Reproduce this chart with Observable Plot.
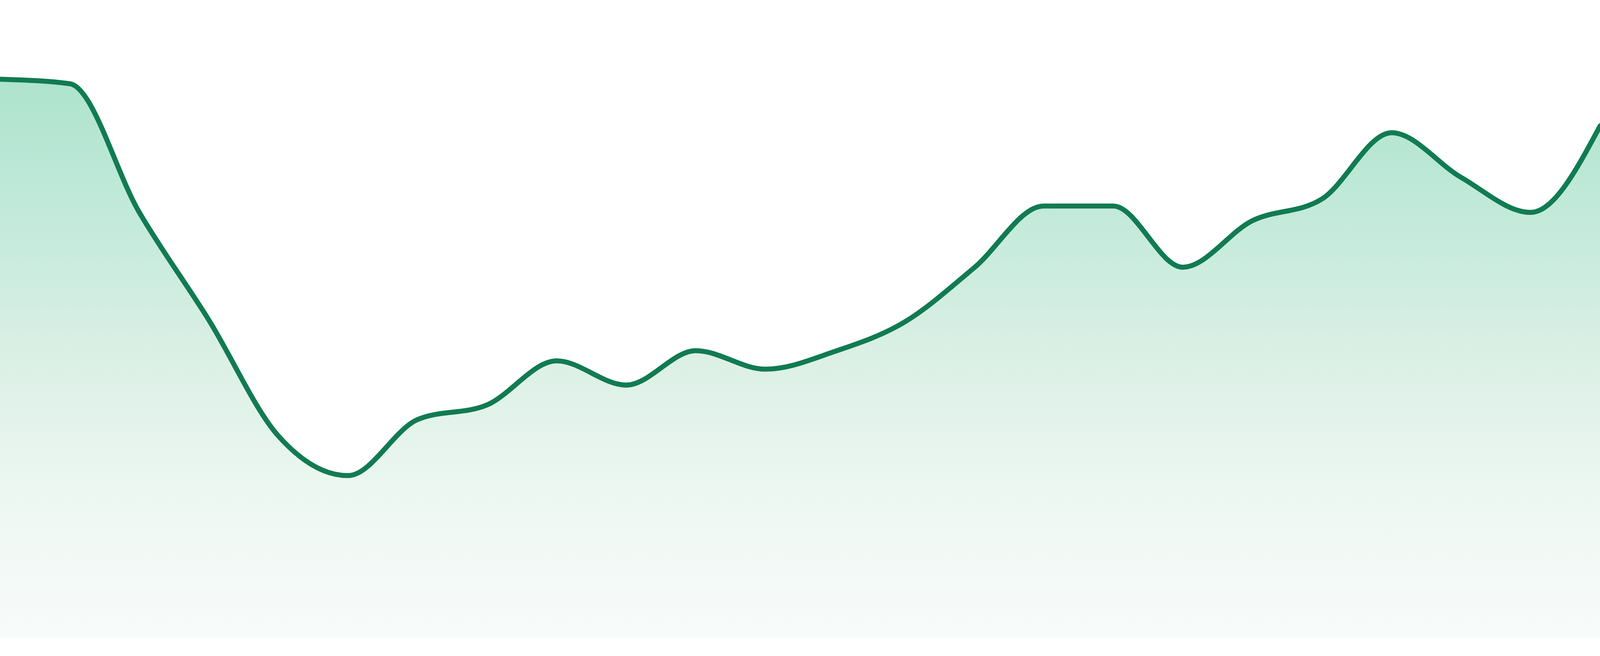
<!DOCTYPE html>
<html>
<head>
<meta charset="utf-8">
<script src="https://cdn.jsdelivr.net/npm/d3@7"></script>
<script src="https://cdn.jsdelivr.net/npm/@observablehq/plot@0.6"></script>
<style>
  html, body { margin: 0; padding: 0; background: #ffffff; overflow: hidden; }
  #chart svg { display: block; max-width: none !important; }
</style>
</head>
<body>
<div id="chart"></div>
<script>
// Period index (24 evenly spaced observations)
const periods = d3.range(1, 25);
// Series values (relative level, 0–100)
const values = [
  87.6, 86.9, 66.7, 49.8, 31.6, 25.4, 34.2, 36.5,
  43.4, 39.6, 45.0, 42.1, 44.9, 49.5, 58.0, 67.7,
  67.7, 58.1, 65.4, 68.8, 79.2, 72.2, 66.7, 80.3
];
const yDomain = [0, 100];

const data = periods.map((p, i) => ({period: p, value: values[i]}));

// Fill the browser window (designed for 4800 x 1680)
const W = window.innerWidth || 4800;
const H = window.innerHeight || 1680;
const k = W / 4800;

const plot = Plot.plot({
  width: W,
  height: H,
  marginTop: 0,
  marginRight: 0,
  marginBottom: Math.round(H * 48 / 1680),
  marginLeft: 0,
  x: {axis: null, domain: d3.extent(periods)},
  y: {axis: null, domain: yDomain},
  marks: [
    Plot.areaY(data, {x: "period", y: "value", curve: "monotone-x", fill: "url(#areaFade)"}),
    Plot.lineY(data, {x: "period", y: "value", curve: "monotone-x", stroke: "#117b52", strokeWidth: 15 * k})
  ]
});

const ns = "http://www.w3.org/2000/svg";
const defs = document.createElementNS(ns, "defs");
const grad = document.createElementNS(ns, "linearGradient");
grad.setAttribute("id", "areaFade");
grad.setAttribute("x1", "0"); grad.setAttribute("y1", "0");
grad.setAttribute("x2", "0"); grad.setAttribute("y2", "1");
[["0", "#aee3cd"], ["0.25", "#c3eadb"], ["0.51", "#dcf0e6"], ["0.77", "#eef8f3"], ["1", "#f8fbfa"]].forEach(([o, c]) => {
  const s = document.createElementNS(ns, "stop");
  s.setAttribute("offset", o);
  s.setAttribute("stop-color", c);
  grad.appendChild(s);
});
defs.appendChild(grad);
plot.insertBefore(defs, plot.firstChild);

document.getElementById("chart").appendChild(plot);
</script>
</body>
</html>
